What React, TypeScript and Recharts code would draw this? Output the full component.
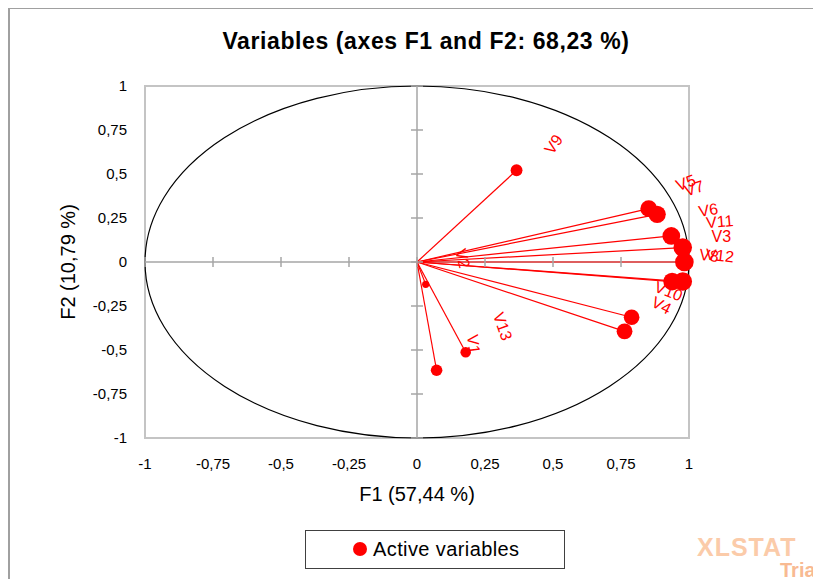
import React from 'react';
import {
  ScatterChart,
  Scatter,
  XAxis,
  YAxis,
  ReferenceLine,
  ReferenceArea,
  ReferenceDot,
} from 'recharts';

// ---- Data ----
const variableNames = ['V1', 'V2', 'V3', 'V4', 'V5', 'V6', 'V7', 'V8', 'V9', 'V10', 'V11', 'V12', 'V13'];
const f1Values = [0.072, 0.032, 0.983, 0.763, 0.852, 0.935, 0.883, 0.938, 0.366, 0.789, 0.977, 0.977, 0.179];
const f2Values = [-0.615, -0.127, 0.0, -0.394, 0.303, 0.148, 0.271, -0.111, 0.521, -0.314, 0.082, -0.111, -0.513];
const axisTicks = [-1, -0.75, -0.5, -0.25, 0, 0.25, 0.5, 0.75, 1];

const chartTitle = 'Variables (axes F1 and F2: 68,23 %)';
const xTitle = 'F1 (57,44 %)';
const yTitle = 'F2 (10,79 %)';
const legendLabel = 'Active variables';

const points = variableNames.map((name, i) => ({ name, x: f1Values[i], y: f2Values[i] }));

const RED = '#FF0000';
const FONT = '"Liberation Sans", Arial, sans-serif';

const fmt = (v: number) => String(v).replace('.', ',');

const VarPoint = (props: any) => {
  const { cx, cy, payload } = props;
  if (cx == null || cy == null) return null;
  const q = payload.x * payload.x + payload.y * payload.y;
  const r = 3.5 + 6 * q;
  const ang = (-Math.atan2(payload.y, payload.x) * 180) / Math.PI;
  const lx = cx + 37;
  const ly = cy - 26;
  return (
    <g>
      <circle cx={cx} cy={cy} r={r} fill={RED} />
      <text
        x={lx}
        y={ly}
        transform={`rotate(${ang} ${lx} ${ly})`}
        textAnchor="middle"
        dominantBaseline="central"
        fill={RED}
        fontSize={16}
        fontFamily={FONT}
      >
        {payload.name}
      </text>
    </g>
  );
};

const VTick = (p: any) => (
  <line x1={p.cx} x2={p.cx} y1={p.cy - 5} y2={p.cy + 5} stroke="#A6A6A6" strokeWidth={1.5} />
);
const HTick = (p: any) => (
  <line x1={p.cx - 6} x2={p.cx + 6} y1={p.cy} y2={p.cy} stroke="#A6A6A6" strokeWidth={1.5} />
);

const Frame = (p: any) => (
  <rect x={p.x} y={p.y} width={p.width} height={p.height} fill="none" stroke="#C4C4C4" strokeWidth={2} />
);
const UnitCircle = (p: any) => (
  <ellipse
    cx={p.x + p.width / 2}
    cy={p.y + p.height / 2}
    rx={p.width / 2}
    ry={p.height / 2}
    fill="none"
    stroke="#000"
    strokeWidth={1.2}
  />
);

const tickStyle = { fontSize: 15, fill: '#000', fontFamily: FONT };

export default function App() {
  return (
    <div style={{ position: 'relative', width: 813, height: 571, fontFamily: FONT }}>
      <style>{'html{overflow:hidden;}'}</style>
      <div
        style={{
          position: 'absolute',
          left: 0,
          top: -1,
          width: 813,
          height: 572,
          boxSizing: 'border-box',
          borderLeft: '2px solid #A0A0A0',
          borderTop: '2px solid #A0A0A0',
        }}
      />
      <ScatterChart
        width={813}
        height={571}
        margin={{ top: 78, right: 132, bottom: 111, left: 77 }}
        style={{ position: 'absolute', left: 0, top: 0 }}
      >
        <XAxis
          type="number"
          dataKey="x"
          domain={[-1, 1]}
          ticks={axisTicks}
          tickFormatter={fmt}
          axisLine={false}
          tickLine={false}
          tickSize={0}
          tickMargin={20}
          height={30}
          tick={tickStyle}
          interval={0}
        />
        <YAxis
          type="number"
          dataKey="y"
          domain={[-1, 1]}
          ticks={axisTicks}
          tickFormatter={fmt}
          axisLine={false}
          tickLine={false}
          tickSize={0}
          tickMargin={18}
          width={60}
          tick={tickStyle}
          interval={0}
        />
        <ReferenceArea x1={-1} x2={1} y1={-1} y2={1} shape={Frame} ifOverflow="visible" />
        <ReferenceLine x={0} stroke="#A6A6A6" strokeWidth={1.5} />
        <ReferenceLine y={0} stroke="#A6A6A6" strokeWidth={1.5} />
        {axisTicks.map((t) => (
          <ReferenceDot key={`vx${t}`} x={t} y={0} r={0} shape={VTick} ifOverflow="visible" />
        ))}
        {axisTicks.map((t) => (
          <ReferenceDot key={`hy${t}`} x={0} y={t} r={0} shape={HTick} ifOverflow="visible" />
        ))}
        <ReferenceArea x1={-1} x2={1} y1={-1} y2={1} shape={UnitCircle} ifOverflow="visible" />
        {points.map((p) => (
          <ReferenceLine
            key={`seg${p.name}`}
            segment={[
              { x: 0, y: 0 },
              { x: p.x, y: p.y },
            ]}
            stroke={RED}
            strokeWidth={1.2}
            ifOverflow="visible"
          />
        ))}
        <Scatter data={points} fill={RED} shape={VarPoint} isAnimationActive={false} />
      </ScatterChart>
      <svg
        width={813}
        height={571}
        style={{ position: 'absolute', left: 0, top: 0, pointerEvents: 'none', overflow: 'hidden' }}
      >
        <text x={418} y={41} textAnchor="middle" fontSize={23} fontWeight="bold" letterSpacing={0.6} fontFamily={FONT} fill="#000">
          {chartTitle}
        </text>
        <text x={409} y={493} textAnchor="middle" fontSize={20} fontFamily={FONT} fill="#000">
          {xTitle}
        </text>
        <text
          x={67}
          y={254}
          textAnchor="middle"
          fontSize={20}
          fontFamily={FONT}
          fill="#000"
          transform="rotate(-90 67 254)"
        >
          {yTitle}
        </text>
        <g>
          <rect x={297.5} y={522.5} width={259} height={38} fill="#fff" stroke="#404040" strokeWidth={1} />
          <circle cx={352} cy={541} r={7} fill={RED} />
          <text x={365} y={548} fontSize={20} letterSpacing={0.4} fontFamily={FONT} fill="#000">
            {legendLabel}
          </text>
        </g>
        <text x={689} y={548} fontSize={25} fontWeight="bold" letterSpacing={1} fontFamily={FONT} fill="#FBCBA9">
          XLSTAT
        </text>
        <text x={772} y={569} fontSize={20} fontWeight="bold" fontFamily={FONT} fill="#F8BA92">
          Tria
        </text>
      </svg>
    </div>
  );
}
